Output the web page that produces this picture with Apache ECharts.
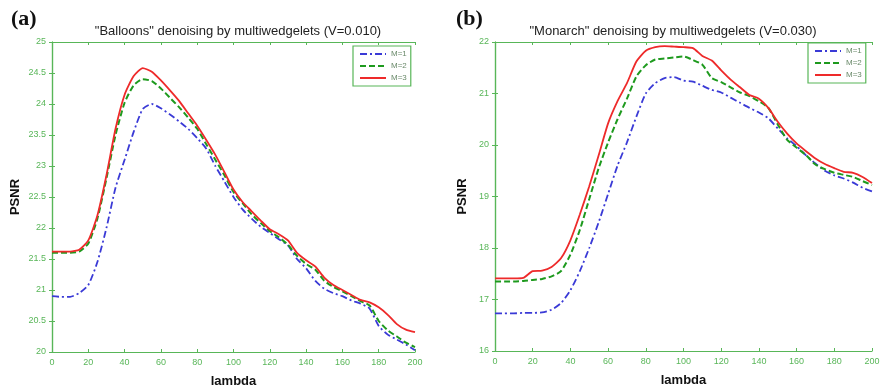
<!DOCTYPE html>
<html>
<head>
<meta charset="utf-8">
<script src="https://cdn.jsdelivr.net/npm/echarts@6/dist/echarts.min.js"></script>
<style>
  html, body { margin: 0; padding: 0; background: #fff; }
  #chart { width: 883px; height: 389px; }
</style>
</head>
<body>
<div id="chart"></div>
<script>
// lambda values shared by both panels
const lambda = [0, 5, 10, 15, 20, 25, 30, 35, 40, 45, 50, 55, 60, 65, 70, 75, 80, 85, 90, 95,
  100, 105, 110, 115, 120, 125, 130, 135, 140, 145, 150, 155, 160, 165, 170, 175, 180, 185, 190, 195, 200];

// (a) "Balloons", V=0.010
const balloonsM1 = [20.9, 20.89, 20.89, 20.95, 21.08, 21.45, 22.0, 22.65, 23.1, 23.55, 23.92, 24.0, 23.93, 23.83, 23.72, 23.6, 23.45, 23.28, 23.0, 22.75,
  22.5, 22.3, 22.15, 22.02, 21.92, 21.82, 21.72, 21.5, 21.35, 21.15, 21.02, 20.95, 20.9, 20.83, 20.78, 20.7, 20.42, 20.28, 20.2, 20.12, 20.03];
const balloonsM2 = [21.6, 21.6, 21.6, 21.62, 21.75, 22.15, 22.8, 23.5, 24.02, 24.3, 24.4, 24.37, 24.25, 24.1, 23.95, 23.78, 23.6, 23.35, 23.1, 22.85,
  22.58, 22.4, 22.22, 22.08, 21.95, 21.85, 21.73, 21.55, 21.42, 21.33, 21.15, 21.05, 20.98, 20.9, 20.82, 20.75, 20.5, 20.35, 20.25, 20.15, 20.08];
const balloonsM3 = [21.62, 21.62, 21.62, 21.65, 21.8, 22.2, 22.85, 23.6, 24.15, 24.45, 24.58, 24.52, 24.38, 24.22, 24.05, 23.85, 23.65, 23.42, 23.18, 22.9,
  22.62, 22.42, 22.27, 22.12, 21.98, 21.9, 21.8, 21.6, 21.48, 21.38, 21.2, 21.08, 21.0, 20.92, 20.84, 20.8, 20.72, 20.6, 20.45, 20.36, 20.32];

// (b) "Monarch", V=0.030
const monarchM1 = [16.73, 16.73, 16.73, 16.74, 16.74, 16.75, 16.8, 16.93, 17.18, 17.55, 18.0, 18.5, 19.05, 19.6, 20.05, 20.55, 21.0, 21.2, 21.3, 21.32,
  21.25, 21.23, 21.15, 21.07, 21.02, 20.92, 20.82, 20.72, 20.63, 20.52, 20.32, 20.13, 19.98, 19.8, 19.64, 19.5, 19.41, 19.35, 19.27, 19.17, 19.1];
const monarchM2 = [17.35, 17.35, 17.35, 17.36, 17.38, 17.4, 17.45, 17.55, 17.87, 18.35, 18.95, 19.55, 20.05, 20.5, 20.9, 21.33, 21.55, 21.66, 21.68, 21.7,
  21.72, 21.65, 21.56, 21.3, 21.22, 21.12, 21.02, 20.95, 20.85, 20.72, 20.4, 20.1, 19.95, 19.8, 19.62, 19.53, 19.46, 19.42, 19.38, 19.3, 19.22];
const monarchM3 = [17.41, 17.41, 17.41, 17.42, 17.55, 17.56, 17.63, 17.8, 18.15, 18.65, 19.2, 19.8, 20.42, 20.85, 21.2, 21.62, 21.83, 21.9, 21.92, 21.91,
  21.9, 21.88, 21.73, 21.64, 21.45, 21.27, 21.12, 20.97, 20.9, 20.72, 20.45, 20.22, 20.03, 19.88, 19.74, 19.63, 19.55, 19.48, 19.46, 19.38, 19.26];

const seriesNames = ['M=1', 'M=2', 'M=3'];
const panelTitles = ['"Balloons" denoising by multiwedgelets (V=0.010)', '"Monarch" denoising by multiwedgelets (V=0.030)'];

const axisGreen = '#58b658';
const styles = [
  { color: '#3a3ad6', width: 1.8, type: [7, 3, 2, 3] },
  { color: '#1e9a1e', width: 2, type: [6, 3] },
  { color: '#ee2a2a', width: 1.8, type: 'solid' }
];

function pairs(ys) {
  return lambda.map((x, i) => [x, ys[i]]);
}

function makeSeries(data, gridIdx) {
  return data.map((ys, k) => ({
    name: seriesNames[k],
    type: 'line',
    xAxisIndex: gridIdx * 2,
    yAxisIndex: gridIdx * 2,
    data: pairs(ys),
    symbol: 'none',
    smooth: 0.2,
    color: styles[k].color,
    lineStyle: { color: styles[k].color, width: styles[k].width, type: styles[k].type },
    z: 2 + k
  }));
}

function makeXAxes(gridIdx) {
  let base = {
    type: 'value', gridIndex: gridIdx, min: 0, max: 200, interval: 20,
    axisLine: { lineStyle: { color: axisGreen, width: 1.2 } },
    axisTick: { inside: true, length: 3, lineStyle: { color: axisGreen } },
    splitLine: { show: false }
  };
  return [
    Object.assign({}, base, {
      position: 'bottom',
      name: 'lambda', nameLocation: 'middle', nameGap: 23,
      nameTextStyle: { color: '#111', fontSize: 13, fontWeight: 'bold', fontFamily: 'Liberation Sans' },
      axisLabel: { color: axisGreen, fontSize: 9, margin: 6, fontFamily: 'Liberation Sans' }
    }),
    Object.assign({}, base, { position: 'top', axisLabel: { show: false } })
  ];
}

function makeYAxes(gridIdx, min, max, step, nameGap) {
  let base = {
    type: 'value', gridIndex: gridIdx, min: min, max: max, interval: step,
    axisLine: { show: true, lineStyle: { color: axisGreen, width: 1.2 } },
    axisTick: { show: true, inside: true, length: 3, lineStyle: { color: axisGreen } },
    splitLine: { show: false }
  };
  return [
    Object.assign({}, base, {
      position: 'left',
      name: 'PSNR', nameLocation: 'middle', nameGap: nameGap, nameRotate: 90,
      nameTextStyle: { color: '#111', fontSize: 13, fontWeight: 'bold', fontFamily: 'Liberation Sans' },
      axisLabel: { color: axisGreen, fontSize: 9, margin: 6, fontFamily: 'Liberation Sans' }
    }),
    Object.assign({}, base, { position: 'right', axisLabel: { show: false } })
  ];
}

const legendBase = {
  orient: 'vertical',
  data: seriesNames,
  itemWidth: 26, itemHeight: 8, itemGap: 4,
  padding: [4, 4, 4, 6],
  borderColor: axisGreen, borderWidth: 1.2,
  backgroundColor: '#fff',
  itemStyle: { opacity: 0 },
  textStyle: { fontSize: 8, color: '#6a8a6a', fontFamily: 'Liberation Sans' },
  selectedMode: false
};

let chart = echarts.init(document.getElementById('chart'), null, { renderer: 'canvas' });

chart.setOption({
  backgroundColor: '#fff',
  animation: false,
  title: [
    { text: panelTitles[0], left: 233, top: 20, textAlign: 'center',
      textStyle: { fontSize: 13, fontWeight: 'normal', color: '#222', fontFamily: 'Liberation Sans' } },
    { text: panelTitles[1], left: 668, top: 20, textAlign: 'center',
      textStyle: { fontSize: 13, fontWeight: 'normal', color: '#222', fontFamily: 'Liberation Sans' } },
    { text: '(a)', left: 6, top: 3,
      textStyle: { fontSize: 22, fontWeight: 'bold', color: '#111', fontFamily: 'Liberation Serif' } },
    { text: '(b)', left: 451, top: 3,
      textStyle: { fontSize: 22, fontWeight: 'bold', color: '#111', fontFamily: 'Liberation Serif' } }
  ],
  legend: [
    Object.assign({}, legendBase, { left: 353, top: 46 }),
    Object.assign({}, legendBase, { left: 808, top: 43 })
  ],
  grid: [
    { left: 52, top: 42, width: 363, height: 310, show: false, outerBoundsMode: 'none' },
    { left: 495, top: 42, width: 377, height: 309, show: false, outerBoundsMode: 'none' }
  ],
  xAxis: makeXAxes(0).concat(makeXAxes(1)),
  yAxis: makeYAxes(0, 20, 25, 0.5, 30).concat(makeYAxes(1, 16, 22, 1, 26)),
  series: makeSeries([balloonsM1, balloonsM2, balloonsM3], 0)
    .concat(makeSeries([monarchM1, monarchM2, monarchM3], 1))
});
</script>
</body>
</html>
